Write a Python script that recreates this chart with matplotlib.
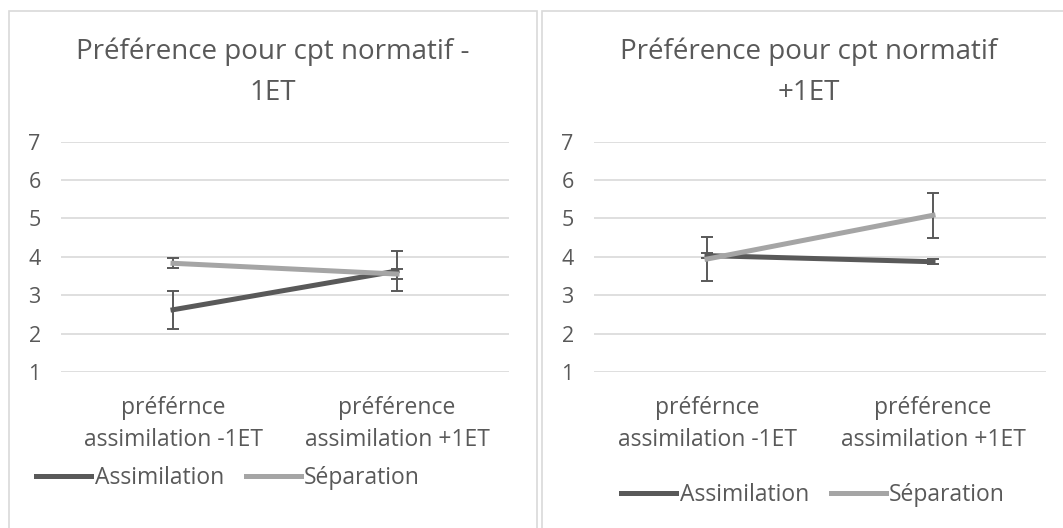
import matplotlib
matplotlib.use("Agg")
import matplotlib.pyplot as plt
from matplotlib.patches import Rectangle
from matplotlib.lines import Line2D

categories = ["préférnce\nassimilation -1ET", "préférence\nassimilation +1ET"]
series_names = ["Assimilation", "Séparation"]
titles = ["Préférence pour cpt normatif -\n1ET", "Préférence pour cpt normatif\n+1ET"]

# left panel (-1ET)
left_assim = [2.62, 3.63]
left_assim_err = [0.50, 0.51]
left_sep = [3.83, 3.55]
left_sep_err = [0.13, 0.13]
# right panel (+1ET)
right_assim = [4.03, 3.87]
right_assim_err = [0.06, 0.07]
right_sep = [3.94, 5.08]
right_sep_err = [0.57, 0.58]

yticks = [1, 2, 3, 4, 5, 6, 7]

W, H = 1063, 528
TXT = "#595959"
C_ASSIM = "#595959"
C_SEP = "#A5A5A5"
GRID = "#D9D9D9"
plt.rcParams["font.family"] = ["Open Sans", "DejaVu Sans"]

fig = plt.figure(figsize=(W / 100, H / 100), dpi=100)

def fx(x):
    return x / W

def fy(y):
    return 1 - y / H

# panel borders
for (x0, y0, x1, y1) in [(8.5, 10.5, 537, 540), (541.5, 10.5, 1080, 540)]:
    fig.patches.append(Rectangle((fx(x0), fy(y1)), fx(x1) - fx(x0), fy(y0) - fy(y1),
                                 transform=fig.transFigure, fill=False,
                                 edgecolor=GRID, lw=1.2, clip_on=False))

panels = [
    dict(ax=(61, 509), title_x=272.5, legend=(228, 478),
         assim=left_assim, aerr=left_assim_err, sep=left_sep, serr=left_sep_err, title=titles[0]),
    dict(ax=(594, 1046), title_x=809, legend=(813, 495),
         assim=right_assim, aerr=right_assim_err, sep=right_sep, serr=right_sep_err, title=titles[1]),
]

LABEL_FS = 16.5
ytop, ybot = 141.5, 372
for p in panels:
    xl, xr = p["ax"]
    ax = fig.add_axes([fx(xl), fy(ybot), fx(xr) - fx(xl), fy(ytop) - fy(ybot)])
    x = list(range(len(categories)))
    ax.errorbar(x, p["assim"], yerr=p["aerr"], color=C_ASSIM, lw=3.6,
                ecolor=C_ASSIM, elinewidth=1.4, capsize=4.3, capthick=1.4,
                label=series_names[0], zorder=3)
    ax.errorbar(x, p["sep"], yerr=p["serr"], color=C_SEP, lw=3.6,
                ecolor=C_ASSIM, elinewidth=1.4, capsize=4.3, capthick=1.4,
                label=series_names[1], zorder=4)
    ax.set_xlim(-0.5, len(categories) - 0.5)
    ax.set_ylim(1, 7)
    ax.set_yticks(yticks)
    ax.set_yticklabels([str(t) for t in yticks])
    ax.set_xticks(x)
    ax.set_xticklabels(categories, linespacing=1.4)
    for s in ax.spines.values():
        s.set_visible(False)
    ax.grid(axis="y", color=GRID, lw=1.2)
    ax.set_axisbelow(True)
    ax.tick_params(axis="both", length=0, colors=TXT)
    ax.tick_params(axis="y", pad=19, labelsize=15.5)
    ax.tick_params(axis="x", pad=17.5, labelsize=LABEL_FS)
    for lab in ax.get_yticklabels():
        lab.set_horizontalalignment("center")
    fig.text(fx(p["title_x"]), fy(72), p["title"], ha="center", va="center",
             fontsize=20, color=TXT, linespacing=1.62)
    handles = [Line2D([], [], color=C_ASSIM, lw=3.6), Line2D([], [], color=C_SEP, lw=3.6)]
    leg = fig.legend(handles, series_names, loc="center",
                     bbox_to_anchor=(fx(p["legend"][0]), fy(p["legend"][1])),
                     ncol=2, frameon=False, fontsize=LABEL_FS, handlelength=2.4,
                     handletextpad=0.15, columnspacing=0.95, borderaxespad=0)
    for t in leg.get_texts():
        t.set_color(TXT)

fig.savefig("out.png", dpi=100)
